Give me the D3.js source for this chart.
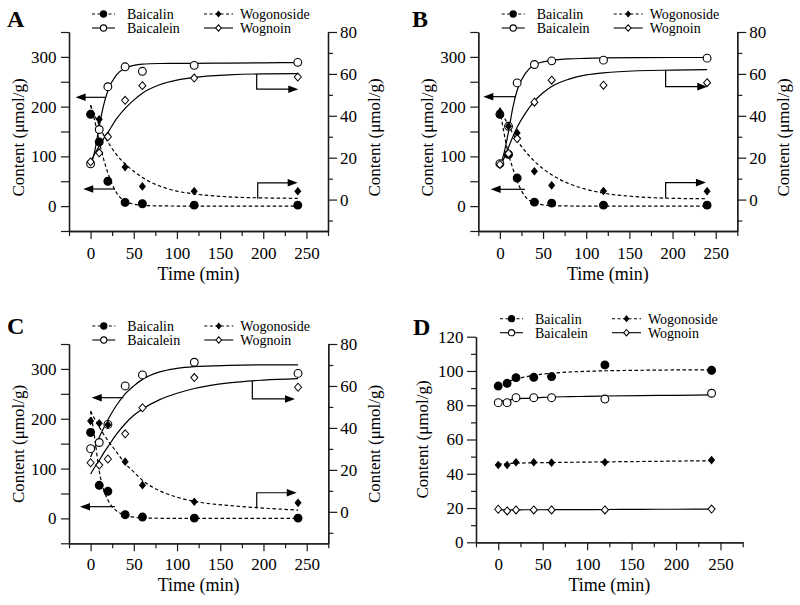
<!DOCTYPE html>
<html><head><meta charset="utf-8">
<script src="https://cdn.jsdelivr.net/npm/d3@7/dist/d3.min.js"></script>
<style>
body{margin:0;background:#fff}
svg{display:block}
text{font-family:"Liberation Serif","Times New Roman",serif;fill:#000}
</style>
</head><body>
<svg id="chart" width="800" height="605"></svg>
<script>
// ---------- data ----------
const times = [0, 10, 20, 40, 60, 120, 240];
const fitTimes = [0, 5, 10, 15, 20, 30, 40, 50, 60, 80, 100, 120, 160, 200, 240];
const seriesNames = ["Baicalin", "Baicalein", "Wogonoside", "Wognoin"];
const xTicks = [0, 50, 100, 150, 200, 250];
const xMinorTicks = [-25, 25, 75, 125, 175, 225, 275];
const leftTicks = [0, 100, 200, 300];
const leftMinorTicks = [-50, 50, 150, 250, 350];
const rightTicks = [0, 20, 40, 60, 80];
const rightMinorTicks = [-10, 10, 30, 50, 70];
const leftTicksD = [0, 20, 40, 60, 80, 100, 120];
const leftMinorTicksD = [10, 30, 50, 70, 90, 110];

// Panel A
const aBaicalin   = [184.6, 129, 50, 7.5, 4.8, 2, 2];
const aBaicalein  = [85, 154, 240, 280, 271, 283, 289];
const aWogonoside = [41, 38.3, 30.4, 15.5, 6.3, 4, 4];
const aWognoin    = [18, 22.3, 30, 47.4, 54.4, 58, 58.5];
const aBaicalinFit   = [203, 170, 130, 95, 67, 27, 10, 4, 1.5, 0.5, 0.2, 0, 0, 0, 0];
const aBaicaleinFit  = [79, 112, 160, 202, 232, 264, 277.5, 283, 285.5, 286.7, 287, 287, 287.5, 288, 288.5];
const aWogonosideFit = [45, 40, 35.5, 31, 27.5, 21.5, 17, 13.5, 10.5, 6.5, 4, 2.7, 1.3, 0.8, 0.6];
const aWognoinFit    = [18, 22, 25.5, 29, 32, 38.5, 43.5, 47.5, 50.8, 54.8, 57, 58.3, 59.5, 60, 60.1];

// Panel B
const bBaicalin   = [184.6, 104, 56.4, 8, 6, 2, 2];
const bBaicalein  = [85.4, 160.5, 247.7, 284.7, 292, 293.4, 297.4];
const bWogonoside = [41.8, 35, 31.8, 13.5, 6.8, 4.1, 4];
const bWognoin    = [16.8, 22, 29.1, 46.5, 57, 54.6, 55.8];
const bBaicalinFit   = [193, 145, 104, 76, 50, 18, 6.5, 2.5, 1, 0.3, 0, 0, 0, 0, 0];
const bBaicaleinFit  = [78, 108, 150, 198, 233, 268, 284, 290, 293, 296, 297, 298, 298.5, 298.7, 298.7];
const bWogonosideFit = [44, 39.3, 35.3, 31.6, 28.3, 22.8, 18.3, 14.7, 11.8, 7.6, 4.9, 3.1, 1.3, 0.6, 0.4];
const bWognoinFit    = [15, 20, 25, 30, 34.5, 41.5, 47, 51, 54, 57.5, 59.5, 60.5, 61.5, 61.8, 62];

// Panel C
const cBaicalin   = [172.5, 66.4, 54.4, 7.4, 2.7, 0.6, 0.6];
const cBaicalein  = [140, 152.3, 188.6, 265.8, 288, 313.4, 291];
const cWogonoside = [43.3, 42.2, 41.5, 23.9, 12.7, 4.8, 4.3];
const cWognoin    = [23.4, 22.3, 25.2, 37.2, 49.6, 64, 59.4];
const cBaicalinFit   = [215, 158, 95, 58, 37, 15, 6.5, 2.5, 1, 0.2, 0, 0, 0, 0, 0];
const cBaicaleinFit  = [123, 144, 163, 181, 198, 227, 250, 266, 279, 294, 301, 304.5, 307, 308, 308];
const cWogonosideFit = [48, 44, 40.5, 37, 34, 28.5, 23, 19, 15, 10, 7, 5, 3, 1.8, 0.8];
const cWognoinFit    = [18, 21.5, 24.5, 28, 31, 37, 42, 46, 49, 53.5, 56.5, 58.8, 61.5, 62.8, 63.5];

// Panel D
const dBaicalin   = [91.2, 92.8, 96.1, 96.3, 96.7, 103.5, 100.4];
const dBaicalein  = [81.5, 81.5, 84.4, 84.4, 84.4, 83.6, 87];
const dWogonoside = [45.1, 45.1, 46.7, 46.7, 46.5, 46.7, 48];
const dWognoin    = [19.3, 18.3, 18.9, 18.9, 18.9, 18.9, 19.4];
const dBaicalinFit   = [91.5, 92.5, 93.5, 94.5, 95.3, 96.5, 97.5, 98.2, 98.7, 99.4, 99.8, 100.1, 100.4, 100.6, 100.7];
const dBaicaleinFit  = [82, 82.5, 82.9, 83.3, 83.6, 84, 84.3, 84.6, 84.8, 85, 85.2, 85.4, 85.6, 85.8, 86];
const dWogonosideFit = [45.6, 45.8, 45.95, 46.05, 46.15, 46.3, 46.4, 46.5, 46.6, 46.7, 46.8, 46.95, 47.15, 47.4, 47.6];
const dWognoinFit    = [18.9, 18.9, 18.9, 18.95, 18.95, 19, 19, 19, 19.05, 19.1, 19.1, 19.15, 19.25, 19.3, 19.4];

// ---------- layout / style ----------
const seriesStyle = {
  Baicalin:   {marker: "circle",  fill: "#000", dashed: true,  axis: "L"},
  Baicalein:  {marker: "circle",  fill: "#fff", dashed: false, axis: "L"},
  Wogonoside: {marker: "diamondS",fill: "#000", dashed: true,  axis: "R"},
  Wognoin:    {marker: "diamond", fill: "#fff", dashed: false, axis: "R"}
};

const panels = [
  {label: "A", labelX: 7, labelY: 27, x0: 69, x1: 328, y0: 32, y1: 231,
   lDomain: [-50, 350], rDomain: [-15, 80], legendX: 92,
   data: [aBaicalin, aBaicalein, aWogonoside, aWognoin],
   fits: [aBaicalinFit, aBaicaleinFit, aWogonosideFit, aWognoinFit],
   leftArrows: [[218.7, 17.8, -17.3], [34.4, 28.3, -8.5]],
   rightArrows: [[192.4, 60, 52.7, 240.6], [193.6, 0.4, 8, 239.9]],
   lTitleX: 24, rTitleX: 380, titleCY: 137.5, timeY: 280, xPad: 8},
  {label: "B", labelX: 412, labelY: 27, x0: 478.3, x1: 737.3, y0: 32, y1: 231,
   lDomain: [-50, 350], rDomain: [-15, 80], legendX: 501.7,
   data: [bBaicalin, bBaicalein, bWogonoside, bWognoin],
   fits: [bBaicalinFit, bBaicaleinFit, bWogonosideFit, bWognoinFit],
   leftArrows: [[220, 17.5, -19.2], [33.8, 29, -10.7]],
   rightArrows: [[192, 61.8, 53.9, 240.2], [192, 0.6, 8.1, 238.7]],
   lTitleX: 433, rTitleX: 789, titleCY: 137.5, timeY: 280, xPad: 8},
  {label: "C", labelX: 7, labelY: 334, x0: 69, x1: 328.3, y0: 344, y1: 543.3,
   lDomain: [-50, 350], rDomain: [-15, 80], legendX: 92.3,
   data: [cBaicalin, cBaicalein, cWogonoside, cWognoin],
   fits: [cBaicalinFit, cBaicaleinFit, cWogonosideFit, cWognoinFit],
   leftArrows: [[242.2, 37.8, 1.3], [23.5, 28.2, -12.3]],
   rightArrows: [[187.1, 62.3, 53.8, 236.5], [192.2, 1.7, 9.1, 238.5]],
   lTitleX: 24, rTitleX: 380, titleCY: 444, timeY: 591, xPad: 7},
  {label: "D", labelX: 413, labelY: 335, x0: 476, x1: 742.7, y0: 336.7, y1: 542.3,
   lDomain: [0, 120], rDomain: null, legendX: 500,
   data: [dBaicalin, dBaicalein, dWogonoside, dWognoin],
   fits: [dBaicalinFit, dBaicaleinFit, dWogonosideFit, dWognoinFit],
   leftArrows: [], rightArrows: [],
   lTitleX: 428, rTitleX: null, titleCY: 439.5, timeY: 591, xPad: 7.5}
];

const svg = d3.select("#chart");
const AX = "#1a1a1a";

function styleAxis(g, fs) {
  g.select(".domain").attr("stroke", AX).attr("stroke-width", 1.3);
  g.selectAll(".tick line").attr("stroke", AX).attr("stroke-width", 1.2);
  g.selectAll(".tick text").attr("font-family", "Liberation Serif, Times New Roman, serif")
    .attr("font-size", fs).attr("fill", "#000");
  g.attr("font-family", null).attr("font-size", null);
}

function markerPath(type) {
  if (type === "diamondS") return "M0,-3.8L3.1,0L0,3.8L-3.1,0Z";
  if (type === "diamond") return "M0,-4.3L3.8,0L0,4.3L-3.8,0Z";
  return null;
}

function drawMarker(g, type, fill, cx, cy, r) {
  if (type === "circle") {
    g.append("circle").attr("cx", cx).attr("cy", cy).attr("r", r)
      .attr("fill", fill).attr("stroke", "#000").attr("stroke-width", 1.1);
  } else {
    const s = r / 4.2;
    g.append("path").attr("d", markerPath(type))
      .attr("transform", `translate(${cx},${cy}) scale(${s})`)
      .attr("fill", fill).attr("stroke", "#000").attr("stroke-width", 1.0 / s);
  }
}

panels.forEach(p => {
  const g = svg.append("g");
  const x = d3.scaleLinear().domain([-25, 275]).range([p.x0, p.x1]);
  const yL = d3.scaleLinear().domain(p.lDomain).range([p.y1, p.y0]);
  const yR = p.rDomain ? d3.scaleLinear().domain(p.rDomain).range([p.y1, p.y0]) : yL;
  const isD = !p.rDomain;

  // bottom axis
  const gxm = g.append("g").attr("transform", `translate(0,${p.y1})`)
    .call(d3.axisBottom(x).tickValues(xMinorTicks).tickSize(5).tickSizeOuter(0).tickFormat(""));
  styleAxis(gxm, 17);
  const gx = g.append("g").attr("transform", `translate(0,${p.y1})`)
    .call(d3.axisBottom(x).tickValues(xTicks).tickSize(8).tickSizeOuter(0).tickPadding(p.xPad));
  styleAxis(gx, 17);

  // left axis
  const gym = g.append("g").attr("transform", `translate(${p.x0},0)`)
    .call(d3.axisLeft(yL).tickValues(isD ? leftMinorTicksD : leftMinorTicks)
      .tickSize(isD ? 5 : 8).tickSizeOuter(0).tickFormat(""));
  styleAxis(gym, 17);
  const gy = g.append("g").attr("transform", `translate(${p.x0},0)`)
    .call(d3.axisLeft(yL).tickValues(isD ? leftTicksD : leftTicks)
      .tickSize(isD ? 9 : 8).tickSizeOuter(0).tickPadding(isD ? 3.5 : 4.5));
  styleAxis(gy, 17);

  // right axis
  if (!isD) {
    const grm = g.append("g").attr("transform", `translate(${p.x1},0)`)
      .call(d3.axisRight(yR).tickValues(rightMinorTicks).tickSize(5).tickSizeOuter(0).tickFormat(""));
    styleAxis(grm, 17);
    const gr = g.append("g").attr("transform", `translate(${p.x1},0)`)
      .call(d3.axisRight(yR).tickValues(rightTicks).tickSize(9).tickSizeOuter(0).tickPadding(3));
    styleAxis(gr, 17);
  }

  // fitted curves
  seriesNames.forEach((name, i) => {
    const st = seriesStyle[name];
    const ys = (st.axis === "L" || isD) ? yL : yR;
    const pts = fitTimes.map((t, k) => [t, p.fits[i][k]]);
    const line = d3.line().x(d => x(d[0])).y(d => ys(d[1])).curve(d3.curveMonotoneX);
    g.append("path").attr("d", line(pts)).attr("fill", "none")
      .attr("stroke", "#000").attr("stroke-width", 1.2)
      .attr("stroke-dasharray", st.dashed ? "3.5,2.5" : null);
  });

  // arrows
  const head = (tipX, tipY, dir) => {
    const L = 10, H = 3.8;
    return `M${tipX},${tipY}L${tipX - dir * L},${tipY - H}L${tipX - dir * L},${tipY + H}Z`;
  };
  p.leftArrows.forEach(a => {
    const yy = yL(a[0]), xs = x(a[1]), xt = x(a[2]);
    g.append("line").attr("x1", xs).attr("x2", xt + 8).attr("y1", yy).attr("y2", yy)
      .attr("stroke", "#000").attr("stroke-width", 1.2);
    g.append("path").attr("d", head(xt, yy, -1)).attr("fill", "#000");
  });
  p.rightArrows.forEach(a => {
    const xv = x(a[0]), ys0 = yR(a[1]), yc = yR(a[2]), xt = x(a[3]);
    g.append("path").attr("d", `M${xv},${ys0}L${xv},${yc}L${xt - 8},${yc}`)
      .attr("fill", "none").attr("stroke", "#000").attr("stroke-width", 1.2);
    g.append("path").attr("d", head(xt, yc, 1)).attr("fill", "#000");
  });

  // data markers
  seriesNames.forEach((name, i) => {
    const st = seriesStyle[name];
    const ys = (st.axis === "L" || isD) ? yL : yR;
    times.forEach((t, k) => {
      drawMarker(g, st.marker, st.fill, x(t), ys(p.data[i][k]), 3.9);
    });
  });

  // legend
  const rows = [p.y0 - 18, p.y0 - 4];
  const cols = [{lx: p.legendX, tx: p.legendX + 35}, {lx: p.legendX + 112, tx: p.legendX + 148}];
  seriesNames.forEach((name, i) => {
    const st = seriesStyle[name];
    const c = cols[i < 2 ? 0 : 1], ry = rows[i % 2];
    const w = i < 2 ? 23 : 29;
    g.append("line").attr("x1", c.lx).attr("x2", c.lx + w).attr("y1", ry).attr("y2", ry)
      .attr("stroke", "#000").attr("stroke-width", 1.1)
      .attr("stroke-dasharray", st.dashed ? "3,2.5" : null);
    drawMarker(g, st.marker, st.fill, c.lx + w / 2, ry, 3.1);
    g.append("text").attr("x", c.tx).attr("y", ry + 5).attr("font-size", 14).text(name);
  });

  // panel label
  g.append("text").attr("x", p.labelX).attr("y", p.labelY).attr("font-size", 24)
    .attr("font-weight", "bold").text(p.label);

  // axis titles
  g.append("text").attr("transform", `translate(${p.lTitleX},${p.titleCY}) rotate(-90)`)
    .attr("text-anchor", "middle").attr("font-size", 17).text("Content (\u03bcmol/g)");
  if (p.rTitleX !== null) {
    g.append("text").attr("transform", `translate(${p.rTitleX},${p.titleCY}) rotate(-90)`)
      .attr("text-anchor", "middle").attr("font-size", 17).text("Content (\u03bcmol/g)");
  }
  g.append("text").attr("x", (p.x0 + p.x1) / 2).attr("y", p.timeY)
    .attr("text-anchor", "middle").attr("font-size", 18).text("Time (min)");
});
</script>
</body></html>
